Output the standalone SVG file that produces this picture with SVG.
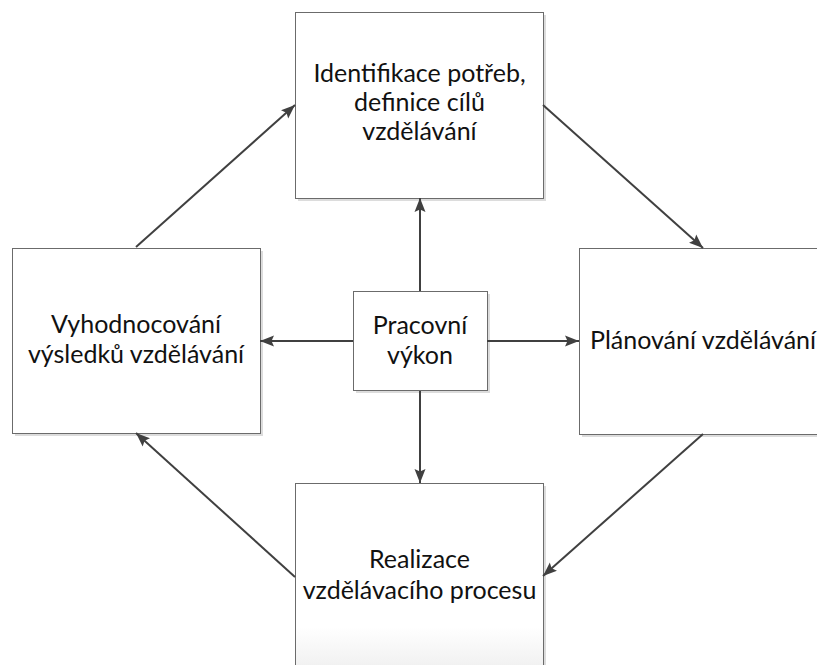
<svg xmlns="http://www.w3.org/2000/svg" width="817" height="665" viewBox="0 0 817 665">
  <defs>
    <style>
      .box { fill: #ffffff; stroke: #6b6b6b; stroke-width: 1; }
      .shadow { fill: #dcdcdc; stroke: none; }
      .lbl { font-family: Lato, "Liberation Sans", sans-serif; font-size: 25px; fill: #111111; text-anchor: middle; }
      .conn { stroke: #404040; stroke-width: 2; fill: none; marker-end: url(#arr); }
    </style>
    <marker id="arr" markerUnits="userSpaceOnUse" markerWidth="16" markerHeight="12" refX="14" refY="6" orient="auto">
      <path d="M0,0.5 L14,6 L0,11.5 L2.5,6 Z" fill="#404040"/>
    </marker>
    <linearGradient id="fade" x1="0" y1="0" x2="0" y2="1">
      <stop offset="0" stop-color="#ffffff"/>
      <stop offset="0.77" stop-color="#ffffff"/>
      <stop offset="1" stop-color="#f0f0f0"/>
    </linearGradient>
  </defs>
  <rect width="817" height="665" fill="#ffffff"/>

  <g id="node-top">
    <rect class="shadow" x="298" y="15" width="248" height="186"/>
    <rect class="box" x="295.5" y="12.5" width="248" height="186"/>
    <text class="lbl" x="419.5" y="82">Identifikace potřeb,</text>
    <text class="lbl" x="419.5" y="111">definice cílů</text>
    <text class="lbl" x="419.5" y="140">vzdělávání</text>
  </g>

  <g id="node-left">
    <rect class="shadow" x="15" y="251" width="248" height="185"/>
    <rect class="box" x="12.5" y="248.5" width="248" height="185"/>
    <text class="lbl" x="136" y="333">Vyhodnocování</text>
    <text class="lbl" x="136" y="363">výsledků vzdělávání</text>
  </g>

  <g id="node-right">
    <rect class="shadow" x="582" y="251" width="248" height="186"/>
    <rect class="box" x="579.5" y="248.5" width="248" height="186"/>
    <text class="lbl" x="703" y="349">Plánování vzdělávání</text>
  </g>

  <g id="node-bottom">
    <rect class="shadow" x="298" y="486" width="248" height="186"/>
    <rect class="box" x="295.5" y="483.5" width="248" height="186" style="fill:url(#fade)"/>
    <text class="lbl" x="419.5" y="568">Realizace</text>
    <text class="lbl" x="419.5" y="599">vzdělávacího procesu</text>
  </g>

  <g id="node-center">
    <rect class="shadow" x="356" y="294" width="134" height="99"/>
    <rect class="box" x="353.5" y="291.5" width="134" height="99"/>
    <text class="lbl" x="420" y="334">Pracovní</text>
    <text class="lbl" x="420" y="364">výkon</text>
  </g>

  <g id="connectors">
    <line class="conn" x1="136" y1="247" x2="295" y2="105"/>
    <line class="conn" x1="543" y1="105" x2="703" y2="248"/>
    <line class="conn" x1="703" y1="434" x2="543" y2="576"/>
    <line class="conn" x1="295" y1="577" x2="136" y2="433"/>
    <line class="conn" x1="420" y1="291" x2="420" y2="198"/>
    <line class="conn" x1="420" y1="391" x2="420" y2="483"/>
    <line class="conn" x1="353" y1="341" x2="260" y2="341"/>
    <line class="conn" x1="487" y1="341" x2="579" y2="341"/>
  </g>
</svg>
